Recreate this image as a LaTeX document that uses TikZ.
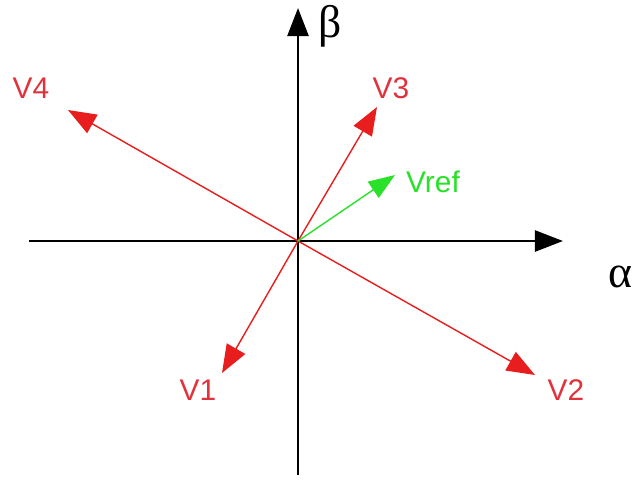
\documentclass[tikz,border=0pt]{standalone}
\usepackage{fontspec}
\setmainfont{Liberation Sans}
\newfontfamily\greekfont{Liberation Serif}
\usetikzlibrary{arrows.meta}
\definecolor{vred}{RGB}{232,30,30}
\definecolor{lred}{RGB}{225,50,60}
\definecolor{vgreen}{RGB}{40,225,40}
\tikzset{
  axis/.style={line width=1.4pt, black, -{Triangle[length=16pt,width=12pt]}},
  vec/.style={line width=0.8pt, vred, -{Triangle[length=16pt,width=12pt]}},
  gvec/.style={line width=0.8pt, vgreen, -{Triangle[length=15pt,width=11pt]}},
  vlabel/.style={text=lred, font=\fontsize{17}{17}\selectfont, inner sep=0pt},
  glabel/.style={text=vgreen, font=\fontsize{17}{17}\selectfont, inner sep=0pt},
  glk/.style={font=\greekfont\fontsize{26}{26}\selectfont, inner sep=0pt}
}
\begin{document}
\begin{tikzpicture}[x=0.02cm,y=-0.02cm]
\useasboundingbox[fill=white] (0,0) rectangle (635,481);
\coordinate (O) at (298,241);
\coordinate (L) at (29,241);
\coordinate (R) at (563,241);
\coordinate (T) at (298,8);
\coordinate (B) at (298,475);
\coordinate (t1) at (222,373);
\coordinate (t2) at (535,375);
\coordinate (t3) at (377,107);
\coordinate (t4) at (68,110);
\coordinate (tr) at (395,175);
\draw[line width=1.4pt] (B) -- (O);
\draw[axis] (O) -- (T);
\draw[line width=1.4pt] (L) -- (O);
\draw[axis] (O) -- (R);
\draw[vec] (O) -- (t1);
\draw[vec] (O) -- (t2);
\draw[vec] (O) -- (t3);
\draw[vec] (O) -- (t4);
\draw[gvec] (O) -- (tr);
\node[glk] (beta) at (330,26) {β};
\node[glk] (alpha) at (620,277) {α};
\node[vlabel] (V1) at (198,390) {V1};
\node[vlabel] (V2) at (566,390) {V2};
\node[vlabel] (V3) at (391,88) {V3};
\node[vlabel] (V4) at (31,88) {V4};
\node[glabel] (Vref) at (433,182) {Vref};
\end{tikzpicture}
\end{document}
